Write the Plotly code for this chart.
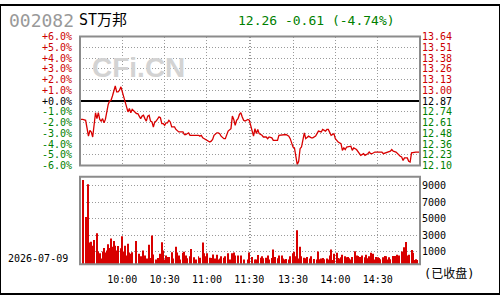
import plotly.graph_objects as go

# ---------------- data ----------------
stock_code = "002082"
stock_name = "ST万邦"
trade_date = "2026-07-09"
status_text = "(已收盘)"
watermark = "CFi.CN"
prev_close = 12.87

price_time = [
    "09:30", "09:32", "09:34", "09:35", "09:36", "09:37", "09:38", "09:39", "09:40", "09:41",
    "09:42", "09:43", "09:44", "09:45", "09:46", "09:47", "09:48", "09:49", "09:50", "09:51",
    "09:52", "09:53", "09:54", "09:55", "09:56", "09:57", "09:58", "09:59", "10:00", "10:01",
    "10:02", "10:03", "10:04", "10:05", "10:06", "10:07", "10:08", "10:09", "10:10", "10:11",
    "10:12", "10:13", "10:14", "10:15", "10:16", "10:17", "10:18", "10:19", "10:20", "10:21",
    "10:22", "10:23", "10:24", "10:25", "10:26", "10:27", "10:28", "10:29", "10:30", "10:31",
    "10:32", "10:33", "10:34", "10:35", "10:37", "10:38", "10:40", "10:43", "10:44", "10:45",
    "10:47", "10:48", "10:51", "10:53", "10:54", "10:55", "10:56", "10:57", "10:58", "11:00",
    "11:02", "11:03", "11:04", "11:05", "11:07", "11:08", "11:09", "11:10", "11:12", "11:13",
    "11:14", "11:15", "11:17", "11:18", "11:19", "11:20", "11:21", "11:22", "11:23", "11:24",
    "11:25", "11:26", "11:27", "11:28", "11:29", "11:30",
    "13:01", "13:02", "13:03", "13:04", "13:05", "13:06", "13:08", "13:09", "13:11", "13:12",
    "13:13", "13:15", "13:16", "13:19", "13:20", "13:23", "13:25", "13:27", "13:28", "13:29",
    "13:30", "13:31", "13:32", "13:33", "13:34", "13:35", "13:36", "13:37", "13:38", "13:39",
    "13:40", "13:41", "13:43", "13:44", "13:46", "13:47", "13:48", "13:50", "13:51", "13:53",
    "13:54", "13:55", "13:56", "13:57", "13:59", "14:00", "14:01", "14:02", "14:04", "14:05",
    "14:06", "14:07", "14:08", "14:11", "14:12", "14:13", "14:15", "14:16", "14:17", "14:18",
    "14:20", "14:21", "14:23", "14:24", "14:25", "14:26", "14:28", "14:29", "14:33", "14:34",
    "14:36", "14:37", "14:39", "14:40", "14:41", "14:43", "14:44", "14:46", "14:47", "14:48",
    "14:49", "14:51", "14:52", "14:53", "14:54", "14:57", "15:00",
]
price = [
    12.65, 12.65, 12.64, 12.55, 12.45, 12.52, 12.50, 12.44, 12.60, 12.73,
    12.66, 12.73, 12.65, 12.63, 12.66, 12.61, 12.65, 12.75, 12.83, 12.87,
    12.88, 12.93, 13.00, 13.05, 12.98, 12.98, 13.00, 13.04, 12.98, 12.92,
    12.85, 12.80, 12.74, 12.78, 12.73, 12.77, 12.75, 12.73, 12.72, 12.72,
    12.68, 12.66, 12.69, 12.70, 12.66, 12.63, 12.69, 12.70, 12.63, 12.62,
    12.56, 12.62, 12.63, 12.65, 12.68, 12.67, 12.60, 12.60, 12.58, 12.61,
    12.61, 12.64, 12.62, 12.56, 12.56, 12.53, 12.50, 12.50, 12.47, 12.47,
    12.49, 12.46, 12.46, 12.46, 12.46, 12.45, 12.46, 12.43, 12.42, 12.40,
    12.38, 12.39, 12.41, 12.46, 12.49, 12.49, 12.48, 12.45, 12.42, 12.42,
    12.46, 12.51, 12.54, 12.69, 12.65, 12.58, 12.64, 12.66, 12.71, 12.73,
    12.68, 12.64, 12.63, 12.64, 12.65, 12.64,
    12.50, 12.45, 12.54, 12.48, 12.53, 12.48, 12.46, 12.44, 12.44, 12.42,
    12.44, 12.43, 12.40, 12.40, 12.46, 12.47, 12.47, 12.45, 12.42, 12.37,
    12.32, 12.31, 12.22, 12.11, 12.15, 12.30, 12.32, 12.42, 12.49, 12.42,
    12.44, 12.45, 12.43, 12.43, 12.45, 12.49, 12.51, 12.50, 12.53, 12.51,
    12.53, 12.53, 12.49, 12.46, 12.48, 12.42, 12.40, 12.38, 12.36, 12.28,
    12.31, 12.29, 12.32, 12.33, 12.28, 12.31, 12.29, 12.27, 12.25, 12.22,
    12.24, 12.22, 12.24, 12.26, 12.24, 12.24, 12.26, 12.26, 12.26, 12.24,
    12.25, 12.26, 12.27, 12.29, 12.27, 12.26, 12.24, 12.21, 12.20, 12.16,
    12.19, 12.19, 12.15, 12.14, 12.25, 12.26, 12.26,
]

vol_time = [
    "09:30", "09:32", "09:34", "09:36", "09:37", "09:38", "09:39", "09:40", "09:42", "09:43",
    "09:44", "09:45", "09:46", "09:47", "09:48", "09:49", "09:50", "09:51", "09:52", "09:53",
    "09:54", "09:55", "09:56", "09:57", "09:59", "10:00", "10:01", "10:02", "10:03", "10:04",
    "10:05", "10:06", "10:07", "10:10", "10:12", "10:13", "10:14", "10:15", "10:16", "10:17",
    "10:18", "10:19", "10:20", "10:21", "10:22", "10:24", "10:25", "10:26", "10:27", "10:28",
    "10:29", "10:30", "10:31", "10:32", "10:33", "10:35", "10:36", "10:38", "10:39", "10:40",
    "10:41", "10:43", "10:44", "10:45", "10:46", "10:48", "10:49", "10:51", "10:52", "10:54",
    "10:55", "10:57", "10:58", "10:59", "11:00", "11:02", "11:03", "11:04", "11:06", "11:07",
    "11:08", "11:09", "11:10", "11:12", "11:13", "11:15", "11:16", "11:18", "11:19", "11:20",
    "11:22", "11:24", "11:26", "11:29", "11:30",
    "13:01", "13:03", "13:04", "13:05", "13:07", "13:08", "13:09", "13:11", "13:12", "13:13",
    "13:15", "13:16", "13:17", "13:19", "13:20", "13:22", "13:23", "13:24", "13:25", "13:27",
    "13:28", "13:30", "13:31", "13:32", "13:33", "13:34", "13:35", "13:36", "13:38", "13:39",
    "13:40", "13:42", "13:43", "13:45", "13:47", "13:48", "13:49", "13:50", "13:51", "13:52",
    "13:54", "13:55", "13:56", "13:57", "13:58", "13:59", "14:01", "14:02", "14:03", "14:04",
    "14:05", "14:07", "14:08", "14:09", "14:10", "14:11", "14:12", "14:14", "14:15", "14:16",
    "14:17", "14:18", "14:19", "14:21", "14:22", "14:23", "14:24", "14:25", "14:27", "14:28",
    "14:29", "14:30", "14:31", "14:32", "14:34", "14:35", "14:36", "14:37", "14:38", "14:39",
    "14:41", "14:42", "14:43", "14:44", "14:45", "14:47", "14:48", "14:49", "14:50", "14:51",
    "14:52", "14:54", "14:55", "14:56", "14:57", "14:58", "15:00",
]
volume = [
    1620, 9650, 5210, 9150, 2120, 2230, 1730, 2430, 3240, 1040,
    840, 190, 1040, 1460, 920, 1150, 1920, 1460, 2620, 1620,
    2310, 1730, 1150, 1690, 1420, 2890, 1040, 1730, 570, 1960,
    920, 770, 960, 2310, 770, 460, 300, 1150, 570, 190,
    190, 1850, 260, 2970, 690, 70, 260, 70, 770, 2160,
    1150, 70, 570, 380, 380, 960, 190, 1620, 920, 570,
    70, 880, 1000, 570, 230, 460, 1350, 340, 70, 460,
    300, 2120, 840, 460, 840, 300, 260, 690, 190, 650,
    70, 190, 460, 300, 460, 840, 70, 840, 920, 570,
    570, 570, 70, 70, 920,
    380, 70, 70, 610, 300, 460, 230, 300, 570, 70,
    260, 1270, 380, 230, 570, 570, 190, 70, 150, 70,
    460, 840, 1000, 460, 3590, 190, 1620, 460, 300, 230,
    380, 190, 460, 150, 70, 1040, 110, 190, 260, 110,
    190, 70, 570, 1270, 20, 770, 880, 260, 190, 340,
    650, 460, 340, 380, 220, 70, 380, 1070, 570, 500,
    380, 380, 570, 340, 650, 220, 460, 880, 770, 70,
    380, 340, 260, 110, 340, 500, 460, 70, 340, 110,
    500, 500, 340, 650, 570, 1040, 500, 1540, 2190, 570,
    650, 1230, 880, 20, 110, 20, 1150,
]

pct_ticks = [6, 5, 4, 3, 2, 1, 0, -1, -2, -3, -4, -5, -6]
vol_ticks = [1000, 3000, 5000, 7000, 9000]
grid_times = ["10:00", "10:30", "11:00", "11:30", "13:00", "13:30", "14:00", "14:30"]
grid_labels = ["10:00", "10:30", "11:00", "11:30", "", "13:30", "14:00", "14:30"]


# --------------- helpers ---------------
def session_minute(t):
    """Position on the trading-session axis (morning 0-120, afternoon 121-241)."""
    h, m = map(int, t.split(":"))
    mod = h * 60 + m
    return mod - 570 if mod <= 690 else 121 + (mod - 780)


SESSION_LEN = 241
RED = "#cc0000"
LINE_RED = "#d80000"
GREEN = "#008000"
GRID = "#9a9a9a"
FRAME = "#8c8c8c"
MONO = "DejaVu Sans Mono"
VOL_FLOOR = -480
VOL_CEIL = 10040


def colored(text, v):
    c = RED if v > 0 else (GREEN if v < 0 else "#000000")
    return f'<span style="color:{c}">{text}</span>'


x_price = [session_minute(t) for t in price_time]
pct = [(p / prev_close - 1) * 100 for p in price]
x_vol = [session_minute(t) for t in vol_time]
x_grid = [session_minute(t) for t in grid_times]

last = price[-1]
change = last - prev_close
quote_text = f"{last:.2f} {change:+.2f} ({change / prev_close * 100:+.2f}%)"

pct_text = [colored(f"{k:+.1f}%", k) for k in pct_ticks]
price_vals = [prev_close * (1 + k / 100) for k in pct_ticks]
price_text = [colored(f"{v:.2f}", k) for v, k in zip(price_vals, pct_ticks)]

W, H = 500, 300
XD = [80 / W, 420 / W]
YD_PRICE = [1 - 166.7 / H, 1 - 32.7 / H]
YD_VOL = [1 - 269.0 / H, 1 - 178.3 / H]

# --------------- figure ---------------
fig = go.Figure()
fig.add_trace(go.Scatter(
    x=x_price, y=pct, mode="lines", line=dict(color=LINE_RED, width=1.3),
    xaxis="x", yaxis="y", hoverinfo="skip", showlegend=False))
fig.add_trace(go.Scatter(
    x=[None], y=[None], mode="lines", xaxis="x", yaxis="y3",
    hoverinfo="skip", showlegend=False))
fig.add_trace(go.Bar(
    x=x_vol, y=[v - VOL_FLOOR for v in volume], base=VOL_FLOOR, width=0.7,
    marker=dict(color=LINE_RED, line=dict(width=0)),
    xaxis="x2", yaxis="y2", hoverinfo="skip", showlegend=False))

grid_common = dict(showgrid=True, gridcolor=GRID, gridwidth=1, griddash="1px,2px",
                   showline=False, fixedrange=True)

fig.update_layout(
    width=W, height=H,
    margin=dict(l=0, r=0, t=0, b=0),
    paper_bgcolor="white", plot_bgcolor="white",
    showlegend=False,
    xaxis=dict(domain=XD, range=[0, SESSION_LEN], anchor="y", tickvals=x_grid,
               showticklabels=False, zeroline=False, ticks="", **grid_common),
    yaxis=dict(domain=YD_PRICE, range=[-6, 6], anchor="x", side="left",
               tickvals=pct_ticks, ticktext=pct_text, zeroline=True,
               zerolinecolor="#000000", zerolinewidth=1.5, ticks="",
               tickfont=dict(family=MONO, size=10, color="#000000"),
               ticklabelstandoff=7, **grid_common),
    yaxis3=dict(overlaying="y", anchor="x", side="right",
                range=[prev_close * 0.94, prev_close * 1.06],
                tickvals=price_vals, ticktext=price_text, showgrid=False,
                zeroline=False, showline=False, ticks="", fixedrange=True,
                tickfont=dict(family=MONO, size=10, color="#000000"),
                ticklabelstandoff=1),
    xaxis2=dict(domain=XD, range=[0, SESSION_LEN], anchor="y2", tickvals=x_grid,
                ticktext=grid_labels, zeroline=False,
                ticks="outside", ticklen=6, tickcolor="rgba(0,0,0,0)",
                tickfont=dict(family=MONO, size=10, color="#000000"),
                **grid_common),
    yaxis2=dict(domain=YD_VOL, range=[VOL_FLOOR, VOL_CEIL], anchor="x2", side="right",
                tickvals=vol_ticks, zeroline=False, ticks="",
                tickfont=dict(family=MONO, size=10, color="#000000"),
                ticklabelstandoff=1, **grid_common),
    shapes=[
        dict(type="rect", xref="paper", yref="paper", x0=XD[0], x1=XD[1],
             y0=YD_PRICE[0], y1=YD_PRICE[1], line=dict(color=FRAME, width=2), layer="above"),
        dict(type="rect", xref="paper", yref="paper", x0=XD[0], x1=XD[1],
             y0=YD_VOL[0], y1=YD_VOL[1], line=dict(color=FRAME, width=2), layer="above"),
        dict(type="rect", xref="paper", yref="paper", x0=0, x1=1, y0=0, y1=1,
             line=dict(color="#000000", width=2), layer="above"),
    ],
    annotations=[
        dict(text=stock_code, xref="paper", yref="paper", x=7 / W, y=1 - 16.5 / H,
             xanchor="left", yanchor="middle", showarrow=False,
             font=dict(family=MONO, size=18, color="#999999")),
        dict(text=stock_name, xref="paper", yref="paper", x=77 / W, y=1 - 15.5 / H,
             xanchor="left", yanchor="middle", showarrow=False,
             font=dict(family=MONO + ", Noto Sans CJK SC", size=15, color="#000000")),
        dict(text=quote_text, xref="paper", yref="paper", x=236 / W, y=1 - 16 / H,
             xanchor="left", yanchor="middle", showarrow=False,
             font=dict(family=MONO, size=13, color=GREEN)),
        dict(text=f"<b>{watermark}</b>", xref="paper", yref="paper", x=138 / W, y=1 - 64.5 / H,
             xanchor="center", yanchor="middle", showarrow=False,
             font=dict(family="Liberation Sans", size=28, color="#d3d3d3")),
        dict(text=trade_date, xref="paper", yref="paper", x=6 / W, y=1 - 263 / H,
             xanchor="left", yanchor="middle", showarrow=False,
             font=dict(family=MONO, size=10, color="#000000")),
        dict(text=status_text, xref="paper", yref="paper", x=422 / W, y=1 - 279 / H,
             xanchor="left", yanchor="middle", showarrow=False,
             font=dict(family=MONO + ", Noto Sans CJK SC", size=12, color="#000000")),
    ],
)

fig.write_html("out.html")
